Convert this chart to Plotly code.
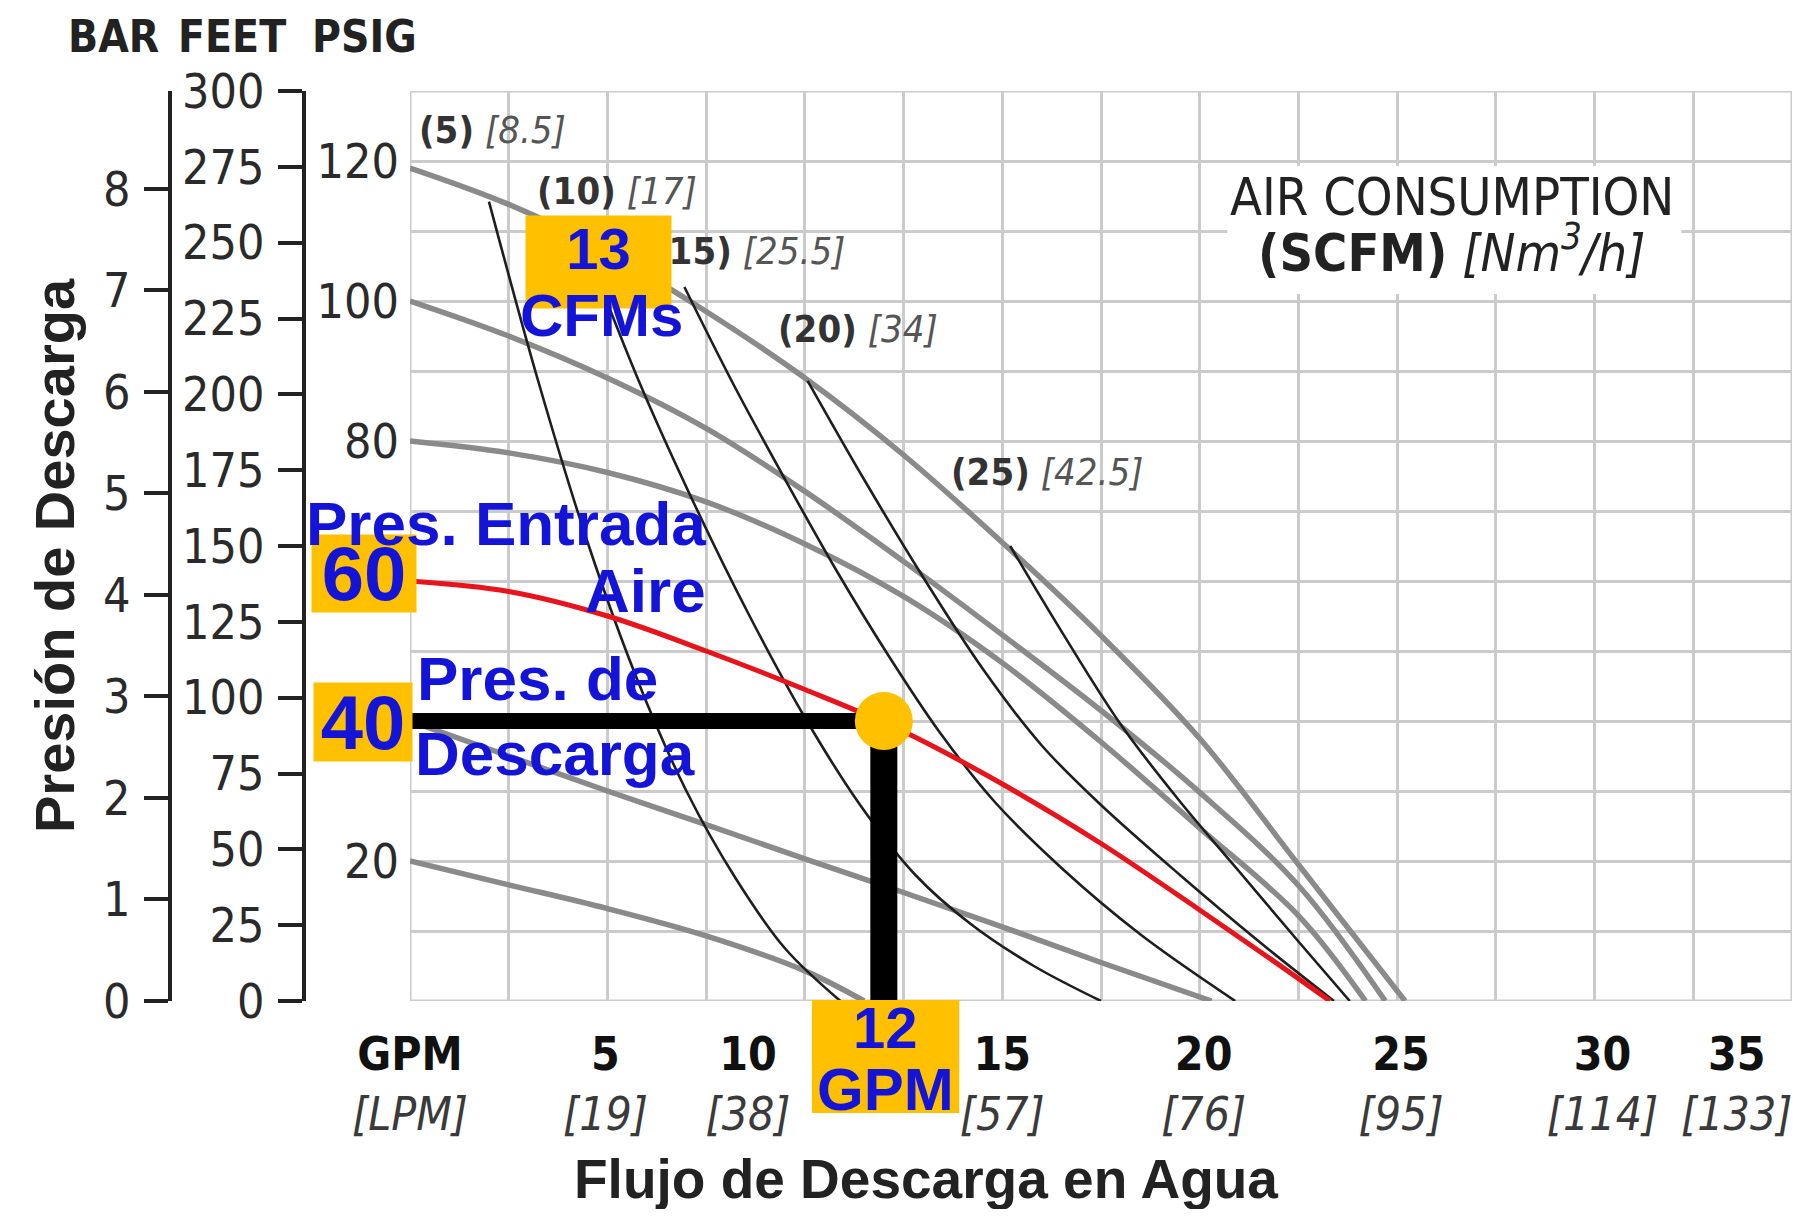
import plotly.graph_objects as go

# ---------------- data (GPM vs discharge PSIG) ----------------
# inlet air pressure curves (psig)
gpm_20 = [0, 2.5, 5, 7.5, 10, 11.5]
psi_20 = [20, 16.6, 13.2, 9.3, 4.3, 0]
gpm_40 = [0, 2.5, 5, 7.5, 10, 12.5, 15, 17.5, 20.3]
psi_40 = [40, 35, 30, 25.2, 20.3, 15.5, 10.6, 5.5, 0]
gpm_60 = [0, 2.5, 5, 7.5, 10, 12.5, 15, 17.5, 20, 22, 23.3]
psi_60 = [60, 58.5, 55, 50, 44.5, 38.5, 31, 22.5, 13, 5.2, 0]
gpm_80 = [0, 2.5, 5, 7.5, 10, 12.5, 15, 17.5, 20, 22.5, 24.2]
psi_80 = [80, 78.3, 75.5, 71.3, 65.3, 57.8, 48.3, 37, 24.7, 12.2, 0]
gpm_100 = [0, 2.5, 5, 7.5, 10, 12.5, 15, 17.5, 20, 22.5, 24.7]
psi_100 = [100, 95, 89, 81.8, 72.8, 62.8, 52.3, 41.5, 29.8, 16.5, 0]
gpm_120 = [0, 2.5, 5, 7.5, 10, 12.5, 15, 17.5, 20, 22.5, 25.2]
psi_120 = [119, 113.8, 107, 98.5, 89, 78, 65.5, 52.2, 37.5, 19.5, 0]

# air consumption lines (SCFM)
gpm_s5 = [2.0, 3.25, 4.5, 5.75, 7.0, 8.25, 9.5, 10.9]
psi_s5 = [114.2, 88.5, 65.5, 46, 30, 17.5, 7.5, 0]
gpm_s10 = [4.4, 5.8, 7.2, 8.6, 10.0, 11.4, 12.8, 14.2, 15.8, 17.5]
psi_s10 = [108.5, 88.5, 71, 55, 40.5, 28, 18, 11, 5, 0]
gpm_s15 = [6.95, 8.2, 9.5, 10.8, 12.1, 13.4, 14.8, 16.5, 18.5, 20.9]
psi_s15 = [102, 88, 74.5, 61.5, 49.5, 38.5, 28.5, 19, 9.5, 0]
gpm_s20 = [10.07, 11.5, 13, 14.5, 16, 17.5, 19.5, 21.5, 23.4]
psi_s20 = [88.6, 74.5, 60.5, 47.5, 36.5, 28, 18, 8.5, 0]
gpm_s25 = [15.2, 16.5, 18, 19.5, 21, 22.5, 23.8]
psi_s25 = [65, 52.8, 39.5, 28.5, 18.5, 8.5, 0]

# operating point
op_gpm = 12
op_psi = 40

# axis tick labels
gpm_labels = ["GPM", "5", "10", "15", "20", "25", "30", "35"]
lpm_labels = ["LPM", "19", "38", "57", "76", "95", "114", "133"]
gpm_label_pos = [0, 4.95, 8.56, 15.0, 20.1, 25.1, 30.2, 33.6]
psig_ticks = [20, 80, 100, 120]
scfm_labels = [("(5)", "[8.5]"), ("(10)", "[17]"), ("(15)", "[25.5]"),
               ("(20)", "[34]"), ("(25)", "[42.5]")]
scfm_label_pos = [(2.08, 124.4), (5.23, 115.7), (8.58, 107.2),
                  (11.35, 96.0), (16.14, 75.6)]

# ---------------- styling ----------------
W, H = 1801, 1201
OFF = 8


def X(px):
    return (px - OFF) / W


def Y(py):
    return 1 - (py - OFF) / H


NARROW = "DejaVu Sans Condensed, Liberation Sans, Arial, sans-serif"
ARIAL = "Liberation Sans, Arial, sans-serif"
GRID = "#cbcbcb"
GRAY = "#8a8a8a"
BLK = "#1e1e1e"
RED = "#e8141c"
YEL = "#FFC000"
BLUE = "#1414d8"

fig = go.Figure()

for gx, gy in [(gpm_20, psi_20), (gpm_40, psi_40), (gpm_80, psi_80),
               (gpm_100, psi_100), (gpm_120, psi_120)]:
    fig.add_trace(go.Scatter(x=gx, y=gy, mode="lines",
                             line=dict(color=GRAY, width=5.5, shape="spline", smoothing=1),
                             hoverinfo="skip"))

for gx, gy in [(gpm_s5, psi_s5), (gpm_s10, psi_s10), (gpm_s15, psi_s15),
               (gpm_s20, psi_s20), (gpm_s25, psi_s25)]:
    fig.add_trace(go.Scatter(x=gx, y=gy, mode="lines",
                             line=dict(color=BLK, width=2.6, shape="spline", smoothing=1),
                             hoverinfo="skip"))

fig.add_trace(go.Scatter(x=gpm_60, y=psi_60, mode="lines",
                         line=dict(color=RED, width=5, shape="spline", smoothing=1),
                         hoverinfo="skip"))

# operating point guides
fig.add_trace(go.Scatter(x=[0, op_gpm], y=[op_psi, op_psi], mode="lines",
                         line=dict(color="black", width=16), hoverinfo="skip"))
fig.add_trace(go.Scatter(x=[op_gpm, op_gpm], y=[op_psi, 0], mode="lines",
                         line=dict(color="black", width=27), hoverinfo="skip"))
fig.add_trace(go.Scatter(x=[op_gpm], y=[op_psi], mode="markers",
                         marker=dict(color=YEL, size=58, line=dict(width=0)),
                         hoverinfo="skip"))

# dummy traces for overlay axes
for ax in ["y2", "y3", "y4"]:
    fig.add_trace(go.Scatter(x=[None], y=[None], yaxis=ax, showlegend=False))
fig.add_trace(go.Scatter(x=[None], y=[None], xaxis="x2", showlegend=False))

xdom = [X(410), X(1792)]
ydom = [Y(1001), Y(91)]

tickfont = dict(family=NARROW, size=48, color="#2a2a2a")

fig.update_layout(
    width=W, height=H, autosize=False,
    margin=dict(l=0, r=0, t=0, b=0, pad=0, autoexpand=False),
    paper_bgcolor="white", plot_bgcolor="white",
    showlegend=False,
    xaxis=dict(domain=xdom, range=[0, 35], dtick=2.5, tick0=0, showgrid=True,
               gridcolor=GRID, gridwidth=3, showticklabels=False, ticks="",
               zeroline=False, showline=False, fixedrange=True, automargin=False),
    xaxis2=dict(overlaying="x", anchor="y", side="bottom", range=[0, 35],
                tickmode="array", tickvals=gpm_label_pos,
                ticktext=[f"<b>{g}</b><br><span style='color:#3a3a3a'><i>[{l}]</i></span>"
                          for g, l in zip(gpm_labels, lpm_labels)],
                showgrid=False, zeroline=False, ticks="", ticklabelstandoff=22,
                automargin=False,
                tickfont=dict(family=NARROW, size=46, color="#111")),
    yaxis=dict(domain=ydom, range=[0, 130], dtick=10, tick0=0, showgrid=True,
               gridcolor=GRID, gridwidth=3, showticklabels=False, ticks="",
               zeroline=False, showline=False, fixedrange=True, automargin=False),
    yaxis2=dict(overlaying="y", anchor="x", side="left", range=[0, 130],
                tickmode="array", tickvals=psig_ticks, showgrid=False,
                zeroline=False, ticks="", ticklabelstandoff=10, tickfont=tickfont,
                automargin=False),
    yaxis3=dict(overlaying="y", anchor="free", position=X(304), side="left",
                range=[0, 300], dtick=25, tick0=0, showgrid=False, zeroline=False,
                showline=True, linecolor="#222", linewidth=4,
                ticks="outside", ticklen=24, tickwidth=4, tickcolor="#222",
                ticklabelstandoff=4, tickfont=tickfont, automargin=False),
    yaxis4=dict(overlaying="y", anchor="free", position=X(170), side="left",
                range=[0, 130 / 14.5038], dtick=1, tick0=0, showgrid=False,
                zeroline=False, showline=True, linecolor="#222", linewidth=4,
                ticks="outside", ticklen=24, tickwidth=4, tickcolor="#222",
                ticklabelstandoff=4, tickfont=tickfont, automargin=False),
)

# plot frame and white box behind the air-consumption legend text
fig.add_shape(type="rect", xref="x", yref="y", x0=0, x1=35, y0=0, y1=130,
              line=dict(color=GRID, width=3), layer="between")
fig.add_shape(type="rect", xref="x", yref="y", x0=20.7, x1=32.2, y0=101, y1=119.3,
              line=dict(width=0), fillcolor="white", layer="between")
# yellow box for the 12 GPM call-out
fig.add_shape(type="rect", xref="x", yref="paper", x0=10.18, x1=13.91,
              y0=Y(1113), y1=Y(1000), line=dict(width=0), fillcolor=YEL, layer="above")

ann = []


def txt(x, y, text, size, family=ARIAL, color="#222", xref="x", yref="y",
        xanchor="center", yanchor="middle", **kw):
    ann.append(dict(x=x, y=y, xref=xref, yref=yref, text=text, showarrow=False,
                    xanchor=xanchor, yanchor=yanchor,
                    font=dict(family=family, size=size, color=color), **kw))


# headers
txt(X(113), Y(37), "<b>BAR</b>", 44, NARROW, xref="paper", yref="paper")
txt(X(232), Y(37), "<b>FEET</b>", 44, NARROW, xref="paper", yref="paper")
txt(X(364), Y(37), "<b>PSIG</b>", 44, NARROW, xref="paper", yref="paper")
txt(X(54), Y(556), "<b>Presión de Descarga</b>", 56, ARIAL, xref="paper", yref="paper",
    textangle=-90)
txt(X(926), Y(1179), "<b>Flujo de Descarga en Agua</b>", 55, ARIAL,
    xref="paper", yref="paper")

# curve labels
for (a, b), (lx, ly) in zip(scfm_labels, scfm_label_pos):
    txt(lx, ly, f"<b>{a}</b> <span style='color:#555'><i>{b}</i></span>", 38, NARROW, "#333")

txt(26.4, 114.9, "AIR CONSUMPTION", 52, NARROW, "#222")
txt(26.4, 107.4, "<b>(SCFM)</b> <i>[Nm<sup>3</sup>/h]</i>", 52, NARROW, "#222")


# yellow boxes with blue call-outs
def box(x, y, text, size, w, h, xref="x", yref="y", valign="middle"):
    ann.append(dict(x=x, y=y, xref=xref, yref=yref, text=text, showarrow=False,
                    xanchor="center", yanchor="middle",
                    width=w, height=h, bgcolor=YEL, borderpad=0, valign=valign,
                    font=dict(family=ARIAL, size=size, color=BLUE)))


box(4.78, 105.6, "<b>13</b>", 58, 145, 92, valign="top")
box(X(364), 61.1, "<b>60</b>", 76, 104, 77, xref="paper")
box(X(363), 39.9, "<b>40</b>", 76, 98, 78, xref="paper")

txt(4.85, 97.9, "<b>CFMs</b>", 60, ARIAL, BLUE)
txt(7.54, 68.2, "<b>Pres. Entrada</b>", 62, ARIAL, BLUE, xanchor="right")
txt(7.54, 58.6, "<b>Aire</b>", 62, ARIAL, BLUE, xanchor="right")
txt(0.12, 46.1, "<b>Pres. de</b>", 62, ARIAL, BLUE, xanchor="left")
txt(0.08, 35.3, "<b>Descarga</b>", 62, ARIAL, BLUE, xanchor="left")
txt(12.03, Y(1027), "<b>12</b>", 58, ARIAL, BLUE, yref="paper")
txt(12.03, Y(1089), "<b>GPM</b>", 60, ARIAL, BLUE, yref="paper")

fig.update_layout(annotations=ann)

fig.write_html("out.html")
